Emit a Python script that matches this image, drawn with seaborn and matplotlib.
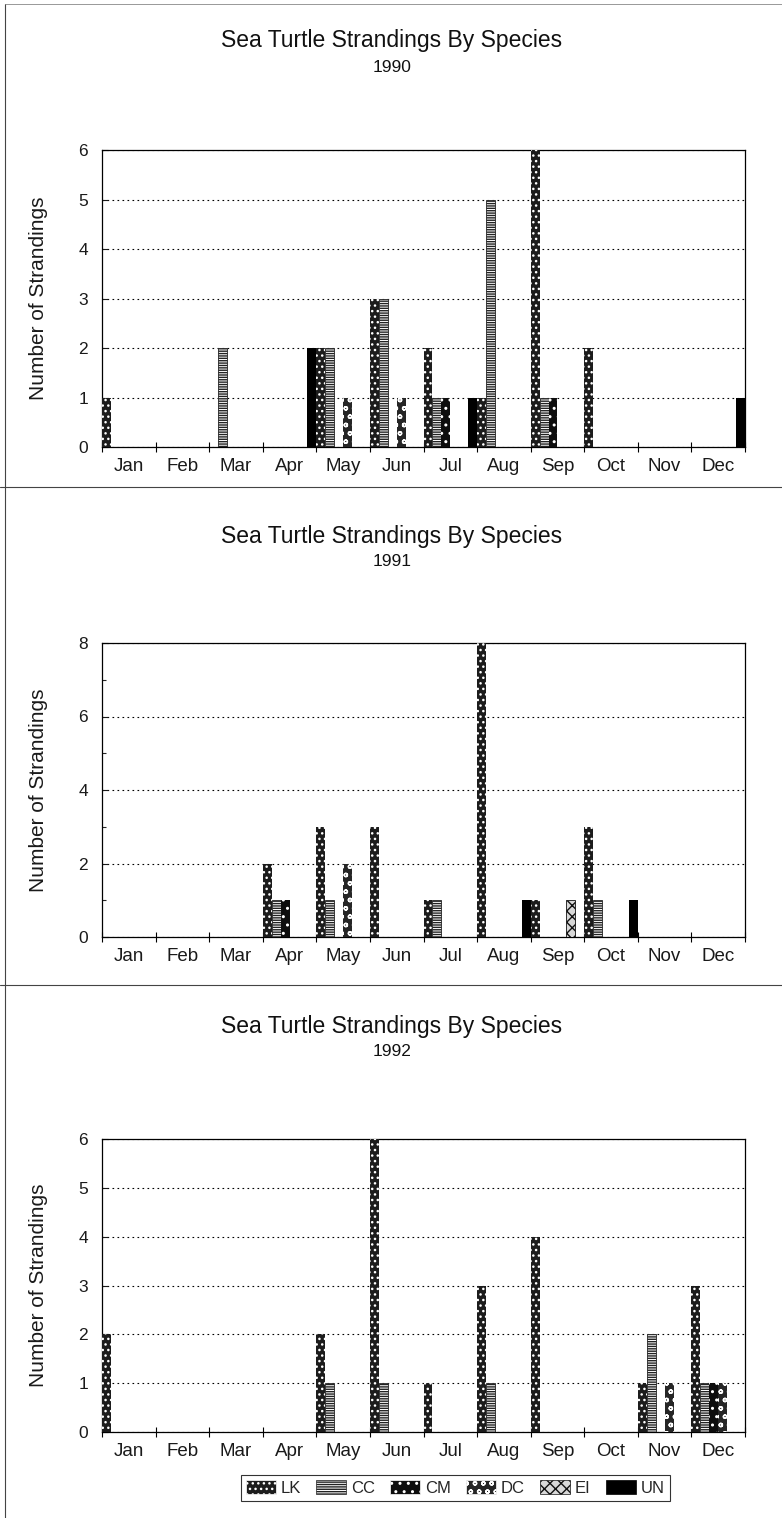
import matplotlib
matplotlib.use("Agg")
import matplotlib.pyplot as plt
import seaborn as sns
import pandas as pd
from matplotlib.patches import Patch
from matplotlib.lines import Line2D
from matplotlib.ticker import MultipleLocator, FixedLocator

sns.set_theme(style="white")
plt.rcParams['font.family'] = ['Liberation Sans', 'DejaVu Sans']
plt.rcParams['hatch.linewidth'] = 1.0

months = ['Jan', 'Feb', 'Mar', 'Apr', 'May', 'Jun', 'Jul', 'Aug', 'Sep', 'Oct', 'Nov', 'Dec']
species = ['LK', 'CC', 'CM', 'DC', 'EI', 'UN']
title = "Sea Turtle Strandings By Species"
ylabel = "Number of Strandings"

# 1990
LK_1990 = [1, 0, 0, 0, 2, 3, 2, 1, 6, 2, 0, 0]
CC_1990 = [0, 0, 2, 0, 2, 3, 1, 5, 1, 0, 0, 0]
CM_1990 = [0, 0, 0, 0, 0, 0, 1, 0, 1, 0, 0, 0]
DC_1990 = [0, 0, 0, 0, 1, 1, 0, 0, 0, 0, 0, 0]
EI_1990 = [0, 0, 0, 0, 0, 0, 0, 0, 0, 0, 0, 0]
UN_1990 = [0, 0, 0, 2, 0, 0, 1, 0, 0, 0, 0, 1]
# 1991
LK_1991 = [0, 0, 0, 2, 3, 3, 1, 8, 1, 3, 0, 0]
CC_1991 = [0, 0, 0, 1, 1, 0, 1, 0, 0, 1, 0, 0]
CM_1991 = [0, 0, 0, 1, 0, 0, 0, 0, 0, 0, 0, 0]
DC_1991 = [0, 0, 0, 0, 2, 0, 0, 0, 0, 0, 0, 0]
EI_1991 = [0, 0, 0, 0, 0, 0, 0, 0, 1, 0, 0, 0]
UN_1991 = [0, 0, 0, 0, 0, 0, 0, 1, 0, 1, 0, 0]
# 1992
LK_1992 = [2, 0, 0, 0, 2, 6, 1, 3, 4, 0, 1, 3]
CC_1992 = [0, 0, 0, 0, 1, 1, 0, 1, 0, 0, 2, 1]
CM_1992 = [0, 0, 0, 0, 0, 0, 0, 0, 0, 0, 0, 1]
DC_1992 = [0, 0, 0, 0, 0, 0, 0, 0, 0, 0, 1, 1]
EI_1992 = [0, 0, 0, 0, 0, 0, 0, 0, 0, 0, 0, 0]
UN_1992 = [0, 0, 0, 0, 0, 0, 0, 0, 0, 0, 0, 0]

years = ['1990', '1991', '1992']
year_data = {
    '1990': [LK_1990, CC_1990, CM_1990, DC_1990, EI_1990, UN_1990],
    '1991': [LK_1991, CC_1991, CM_1991, DC_1991, EI_1991, UN_1991],
    '1992': [LK_1992, CC_1992, CM_1992, DC_1992, EI_1992, UN_1992],
}
ymax = {'1990': 6, '1991': 8, '1992': 6}
ystep = {'1990': 1, '1991': 2, '1992': 1}

# styles: facecolor, hatch colour, hatch
styles = {
    'LK': ('#1c1c1c', 'white', '...'),
    'CC': ('white', '#222222', '-------'),
    'CM': ('#0d0d0d', 'white', '..'),
    'DC': ('#262626', 'white', 'oo'),
    'EI': ('#d8d8d8', '#111111', 'xxx'),
    'UN': ('#000000', '#000000', ''),
}

W, H = 782, 1518
fig = plt.figure(figsize=(W / 100, H / 100), dpi=100)

boxes = [(150, 447), (643, 937), (1139, 1432)]
left_px, right_px = 102, 745
title_y = [40, 536, 1027]
year_y = [67, 562, 1052]

for i, yr in enumerate(years):
    top, bot = boxes[i]
    ax = fig.add_axes([left_px / W, 1 - bot / H, (right_px - left_px) / W, (bot - top) / H])
    rows = []
    for sp, vals in zip(species, year_data[yr]):
        for m, v in zip(months, vals):
            rows.append({'Month': m, 'Species': sp, 'Count': v})
    df = pd.DataFrame(rows)
    sns.barplot(data=df, x='Month', y='Count', hue='Species', order=months,
                hue_order=species, errorbar=None, width=1.0, dodge=True,
                saturation=1, palette=['black'] * 6, legend=False, ax=ax)
    for sp, cont in zip(species, ax.containers):
        fc, hc, hatch = styles[sp]
        for p in cont.patches:
            p.set_facecolor(fc)
            p.set_edgecolor(hc)
            p.set_hatch(hatch)
            p.set_linewidth(0.6 if fc in ('white', '#d8d8d8') else 0)
            p.set_zorder(3)
    ax.set_xlim(-0.5, 11.5)
    ax.set_ylim(0, ymax[yr])
    ax.yaxis.set_major_locator(MultipleLocator(ystep[yr]))
    if ystep[yr] == 2:
        ax.yaxis.set_minor_locator(MultipleLocator(1))
    ax.xaxis.set_minor_locator(FixedLocator([k + 0.5 for k in range(-1, 12)]))
    ax.tick_params(axis='x', which='major', length=0, pad=8, labelsize=13.5, colors='#1a1a1a')
    ax.tick_params(axis='x', which='minor', length=7, width=0.8, direction='inout', bottom=True, color='black')
    ax.tick_params(axis='y', which='major', length=4, width=0.8, direction='in', left=True, pad=10,
                   labelsize=12.5, colors='#1a1a1a')
    ax.tick_params(axis='y', which='minor', length=3, width=0.8, direction='in', left=True)
    ax.grid(axis='y', which='major', color='black', linestyle=(0, (1.5, 3)), linewidth=0.8)
    ax.set_axisbelow(True)
    for s in ax.spines.values():
        s.set_visible(True)
        s.set_color('black')
        s.set_linewidth(0.9)
    ax.set_xlabel('')
    ax.set_ylabel(ylabel, fontsize=15, color='#1a1a1a')
    ax.yaxis.set_label_coords(-54 / (right_px - left_px), 0.5)
    fig.text(392 / W, 1 - title_y[i] / H, title, ha='center', va='center', fontsize=16.5, color='#111111')
    fig.text(392 / W, 1 - year_y[i] / H, yr, ha='center', va='center', fontsize=12.5, color='#111111')

handles = []
for sp in species:
    fc, hc, hatch = styles[sp]
    handles.append(Patch(facecolor=fc, edgecolor=hc, hatch=hatch, linewidth=0.5))
leg = fig.legend(handles, species, loc='center', bbox_to_anchor=(455 / W, 1 - 1488 / H),
                 ncol=6, frameon=True, fancybox=False, fontsize=12, handlelength=1.8,
                 handleheight=0.9, handletextpad=0.3, columnspacing=0.9, borderpad=0.3)
leg.get_frame().set_edgecolor('black')
leg.get_frame().set_linewidth(0.8)

for ypx in (487, 985):
    fig.add_artist(Line2D([0, 1], [1 - ypx / H, 1 - ypx / H], color='#444444', linewidth=0.8))
fig.add_artist(Line2D([5 / W, 5 / W], [0, 1 - 4 / H], color='#444444', linewidth=0.8))
fig.add_artist(Line2D([5 / W, 1], [1 - 4 / H, 1 - 4 / H], color='#888888', linewidth=0.6))

fig.savefig('out.png', dpi=100, facecolor='white')
